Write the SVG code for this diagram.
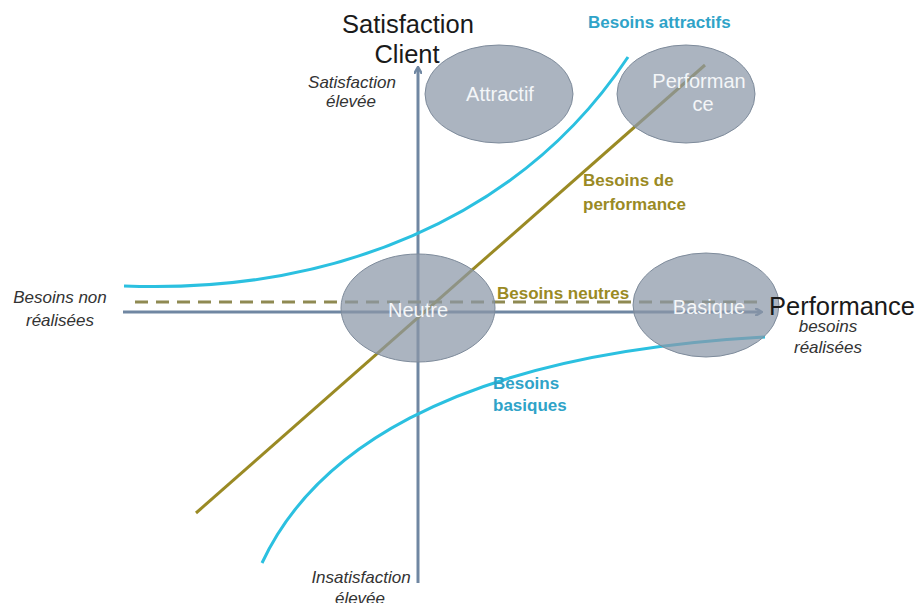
<svg xmlns="http://www.w3.org/2000/svg" width="921" height="603" viewBox="0 0 921 603">
<style>
.axis{stroke:#7087a2;stroke-width:3;fill:none}
.cyan{stroke:#2bc0e0;stroke-width:3;fill:none}
.olive{stroke:#9a8a24;stroke-width:3;fill:none}
.dash{stroke:#8f8a52;stroke-width:3;stroke-dasharray:13 8;fill:none}
.node{fill:#8a97a8;fill-opacity:0.72;stroke:#7e8b9b;stroke-width:1}
.nlabel{font-family:"Liberation Sans",Arial,sans-serif;font-size:20px;fill:#f4f6f8;text-anchor:middle}
.big{font-family:"Liberation Sans",Arial,sans-serif;font-size:25.5px;fill:#1a1a1a;text-anchor:middle}
.ital{font-family:"Liberation Sans",Arial,sans-serif;font-size:17px;font-style:italic;fill:#333;text-anchor:middle}
.lblue{font-family:"Liberation Sans",Arial,sans-serif;font-size:17px;font-weight:bold;fill:#2fa3c8}
.lolive{font-family:"Liberation Sans",Arial,sans-serif;font-size:17px;font-weight:bold;fill:#9a8a24}
</style>
<defs>
<marker id="arr" markerWidth="8" markerHeight="8" refX="6" refY="4" orient="auto" markerUnits="userSpaceOnUse">
<path d="M0,0 L7,4 L0,8" fill="none" stroke="#7087a2" stroke-width="2.5"/>
</marker>
</defs>
<rect width="921" height="603" fill="#ffffff"/>
<g id="connectors">
<line class="axis" x1="418" y1="583" x2="418" y2="68" marker-end="url(#arr)"/>
<line class="axis" x1="123" y1="312" x2="761" y2="312" marker-end="url(#arr)"/>
<line class="dash" x1="135" y1="302" x2="760" y2="302"/>
<path class="cyan" d="M124,286 C330,294 520,220 628,57"/>
<path class="cyan" d="M262,563 C310,460 440,355 765,337"/>
<line class="olive" x1="196" y1="513" x2="705" y2="65"/>
</g>
<g id="node-attractif">
<ellipse class="node" cx="499" cy="94" rx="74" ry="49"/>
<text class="nlabel" x="500" y="101">Attractif</text>
</g>
<g id="node-performance">
<ellipse class="node" cx="686" cy="94" rx="69" ry="49"/>
<text class="nlabel" x="699" y="88">Performan</text>
<text class="nlabel" x="703" y="111">ce</text>
</g>
<g id="node-neutre">
<ellipse class="node" cx="418" cy="308" rx="77" ry="54"/>
<text class="nlabel" x="418" y="317">Neutre</text>
</g>
<g id="node-basique">
<ellipse class="node" cx="706" cy="305" rx="73" ry="52"/>
<text class="nlabel" x="709" y="314">Basique</text>
</g>
<g id="labels">
<text class="big" x="408" y="33">Satisfaction</text>
<text class="big" x="407" y="63">Client</text>
<text class="big" x="842" y="315">Performance</text>
<text class="ital" x="352" y="88">Satisfaction</text>
<text class="ital" x="351" y="107">élevée</text>
<text class="ital" x="60" y="303">Besoins non</text>
<text class="ital" x="60" y="326">réalisées</text>
<text class="ital" x="828" y="332">besoins</text>
<text class="ital" x="828" y="353">réalisées</text>
<text class="ital" x="361" y="583">Insatisfaction</text>
<text class="ital" x="360" y="604">élevée</text>
<text class="lblue" x="588" y="28">Besoins attractifs</text>
<text class="lolive" x="583" y="186">Besoins de</text>
<text class="lolive" x="583" y="210">performance</text>
<text class="lolive" x="497" y="299">Besoins neutres</text>
<text class="lblue" x="493" y="389">Besoins</text>
<text class="lblue" x="493" y="411">basiques</text>
</g>
</svg>
